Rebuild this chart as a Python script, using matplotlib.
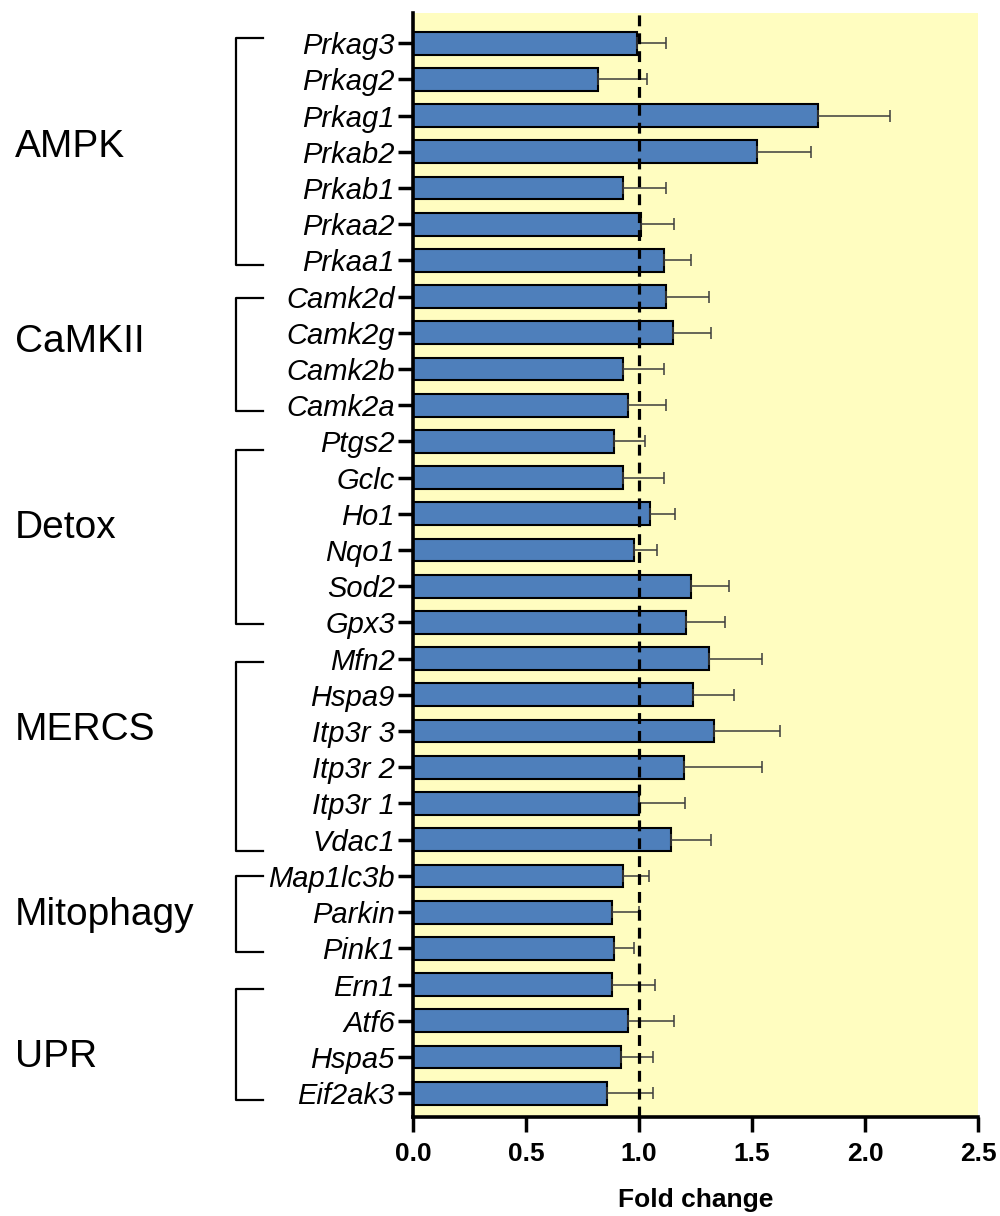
import numpy as np
import matplotlib
matplotlib.use("Agg")
import matplotlib.pyplot as plt
import matplotlib.transforms as mtransforms

plt.rcParams['font.family'] = ['Liberation Sans', 'DejaVu Sans']

# Genes, listed top to bottom
genes = ["Prkag3", "Prkag2", "Prkag1", "Prkab2", "Prkab1", "Prkaa2", "Prkaa1",
         "Camk2d", "Camk2g", "Camk2b", "Camk2a",
         "Ptgs2", "Gclc", "Ho1", "Nqo1", "Sod2", "Gpx3",
         "Mfn2", "Hspa9", "Itp3r 3", "Itp3r 2", "Itp3r 1", "Vdac1",
         "Map1lc3b", "Parkin", "Pink1",
         "Ern1", "Atf6", "Hspa5", "Eif2ak3"]

# Mean fold change and upper error (SEM)
fold_change = [0.99, 0.82, 1.79, 1.52, 0.93, 1.01, 1.11,
               1.12, 1.15, 0.93, 0.95,
               0.89, 0.93, 1.05, 0.98, 1.23, 1.21,
               1.31, 1.24, 1.33, 1.20, 1.00, 1.14,
               0.93, 0.88, 0.89,
               0.88, 0.95, 0.92, 0.86]
sem = [0.13, 0.215, 0.32, 0.24, 0.19, 0.145, 0.12,
       0.19, 0.17, 0.18, 0.17,
       0.135, 0.18, 0.11, 0.10, 0.17, 0.17,
       0.235, 0.18, 0.295, 0.345, 0.205, 0.18,
       0.115, 0.12, 0.09,
       0.19, 0.205, 0.14, 0.20]

# Pathway groups: name, first gene, last gene
groups = ["AMPK", "CaMKII", "Detox", "MERCS", "Mitophagy", "UPR"]
group_first = ["Prkag3", "Camk2d", "Ptgs2", "Mfn2", "Map1lc3b", "Ern1"]
group_last = ["Prkaa1", "Camk2a", "Gpx3", "Vdac1", "Pink1", "Eif2ak3"]

x_ticks = [0.0, 0.5, 1.0, 1.5, 2.0, 2.5]

BAR_COLOR = "#4E7FBB"
BG_COLOR = "#FFFDC0"

fig = plt.figure(figsize=(10, 12.16), dpi=100)
ax = fig.add_axes([0.413, 0.0814, 0.565, 0.9082])
ax.set_facecolor(BG_COLOR)

y = np.arange(len(genes))
ax.barh(y, fold_change, height=0.63, color=BAR_COLOR, edgecolor="black",
        linewidth=1.5, zorder=2)
ax.errorbar(fold_change, y, xerr=[np.zeros(len(sem)), sem], fmt="none",
            ecolor="#3C3C3C", elinewidth=1.1, capsize=4, capthick=1.1, zorder=3)
ax.axvline(1.0, color="black", linewidth=2.3, linestyle=(0, (3.4, 2.2)), zorder=4)

ax.set_xlim(0, 2.5)
ax.set_ylim(len(genes) - 1 + 0.66, -0.845)
ax.set_xticks(x_ticks)
ax.set_xticklabels([f"{t:.1f}" for t in x_ticks], fontsize=19, fontweight="bold")
ax.set_yticks(y)
ax.set_yticklabels(genes, fontsize=21, fontstyle="italic")
ax.tick_params(axis="x", length=11, width=2.5, pad=7, direction="out")
ax.tick_params(axis="y", length=11, width=2.5, pad=2, direction="out")

for side in ("top", "right"):
    ax.spines[side].set_visible(False)
for side in ("left", "bottom"):
    ax.spines[side].set_linewidth(2.6)

ax.set_xlabel("Fold change", fontsize=19, fontweight="bold", labelpad=16)

# Group brackets and names on the left
trans = mtransforms.blended_transform_factory(fig.transFigure, ax.transData)
bracket_x = 0.236
arm_x = 0.263
label_y = [2.86, 8.24, 13.39, 18.98, 24.08, 28.0]
offsets_top = [-0.15, 0.04, 0.23, 0.1, 0.0, 0.13]
offsets_bot = [0.12, 0.16, 0.03, 0.3, 0.1, 0.2]
for name, first, last, ly, ot, ob in zip(groups, group_first, group_last,
                                         label_y, offsets_top, offsets_bot):
    y0 = genes.index(first) + ot
    y1 = genes.index(last) + ob
    ax.plot([arm_x, bracket_x, bracket_x, arm_x], [y0, y0, y1, y1],
            color="black", linewidth=1.6, transform=trans, clip_on=False)
    ax.text(0.015, ly, name, fontsize=28, ha="left", va="center",
            transform=trans)

fig.savefig("out.png", dpi=100)
